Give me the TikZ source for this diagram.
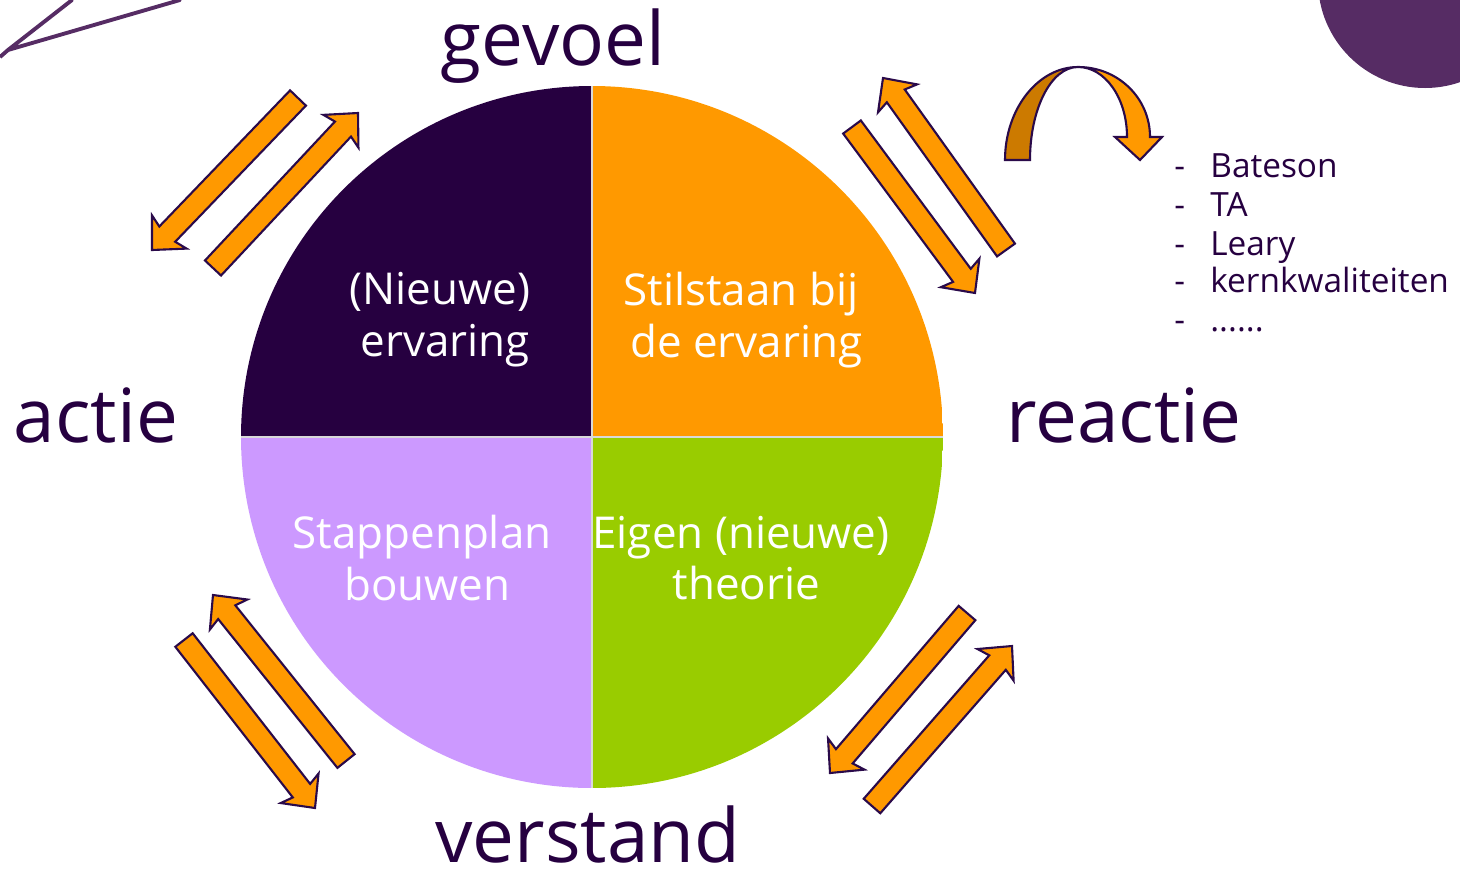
\documentclass[tikz,border=0pt]{standalone}
\usepackage{fontspec}
\setmainfont{Open Sans}
\usepackage{tikz}
\usetikzlibrary{calc}
\definecolor{donker}{HTML}{260040}
\definecolor{oranje}{HTML}{FF9900}
\definecolor{lila}{HTML}{CC99FF}
\definecolor{groen}{HTML}{99CC00}
\definecolor{schaduw}{HTML}{CC7A00}
\definecolor{rand}{HTML}{2A0A4A}
\definecolor{deco}{HTML}{562C64}
\tikzset{
  pijl/.style={draw=rand,fill=oranje,line width=1.2pt,line join=miter},
  groot/.style={donker,font=\fontsize{42.5}{50}\selectfont,anchor=base,text depth=0pt,inner ysep=0pt},
  kwart/.style={white,align=center,font=\fontsize{25}{29.5}\selectfont},
  lijst/.style={donker,font=\fontsize{19}{23}\selectfont,anchor=base west,inner xsep=0pt}
}
\newcommand{\pijlschacht}{0.22cm}
\newcommand{\pijlkop}{0.48cm}
\newcommand{\pijlhals}{0.44cm}
\newcommand{\pijlbaard}{0.50cm}
% block arrow from #1 (tail) to #2 (tip)
\newcommand{\blokpijl}[2]{%
  \draw[pijl] ($(#1)!\pijlschacht!90:(#2)$)
    -- ($($(#2)!\pijlhals!(#1)$)!\pijlschacht!90:(#2)$)
    -- ($($(#2)!\pijlbaard!(#1)$)!\pijlkop!90:(#2)$)
    -- (#2)
    -- ($($(#2)!\pijlbaard!(#1)$)!\pijlkop!-90:(#2)$)
    -- ($($(#2)!\pijlhals!(#1)$)!\pijlschacht!-90:(#2)$)
    -- ($(#1)!\pijlschacht!-90:(#2)$) -- cycle;}

\begin{document}
\begin{tikzpicture}[x=0.02cm,y=-0.02cm]
\useasboundingbox (0,0) rectangle (1460,873);
\path coordinate (m) at (592,437);

% leftovers of the slide
\draw[deco,line width=2.2pt,line cap=round,line join=round] (72,0) -- (8,50) -- (180,0);
\draw[deco,line width=2.2pt] (8,50) -- (0,57);
\fill[deco] (1425,-19) circle[radius=107];

% the four quarters
\begin{scope}
\clip (m) circle[radius=351];
\fill[donker] (m) rectangle ++(-351,-351);
\fill[oranje] (m) rectangle ++(351,-351);
\fill[lila] (m) rectangle ++(-351,351);
\fill[groen] (m) rectangle ++(351,351);
\draw[white!70!gray,line width=0.6pt] (m) ++(0,-351) -- ++(0,702);
\draw[white!70!gray,line width=0.6pt] (m) ++(-351,0) -- ++(702,0);
\end{scope}

\node[kwart] (ervaring) at (440,320) {(Nieuwe)\\ \hspace{6pt}ervaring};
\node[kwart] (stilstaan) at (741,320) {Stilstaan bij\\ \hspace{6pt}de ervaring};
\node[kwart] (stappenplan) at (422,558) {Stappenplan\\ \hspace{6pt}bouwen};
\node[kwart] (theorie) at (741,558) {Eigen (nieuwe)\\ \hspace{6pt}theorie};

\node[groot] (gevoel) at (553,65) {gevoel};
\node[groot] (actie) at (96,442) {actie};
\node[groot] (reactie) at (1124,442) {reactie};
\node[groot] (verstand) at (588,862) {verstand};

% double arrows between the poles
\path coordinate (p1) at (298,98)   coordinate (q1) at (152,250)
      coordinate (p2) at (213,268)  coordinate (q2) at (358,113)
      coordinate (p3) at (1006,250) coordinate (q3) at (883,78)
      coordinate (p4) at (852,127)  coordinate (q4) at (975,293)
      coordinate (p5) at (346,761)  coordinate (q5) at (213,595)
      coordinate (p6) at (184,640)  coordinate (q6) at (315,808)
      coordinate (p7) at (967,613)  coordinate (q7) at (830,773)
      coordinate (p8) at (872,806)  coordinate (q8) at (1012,646);
\blokpijl{p1}{q1}
\blokpijl{p2}{q2}
\blokpijl{p3}{q3}
\blokpijl{p4}{q4}
\blokpijl{p5}{q5}
\blokpijl{p6}{q6}
\blokpijl{p7}{q7}
\blokpijl{p8}{q8}

% curved arrow towards the list
\draw[pijl,fill=schaduw] (1005,160) .. controls (1005,109) and (1038,67) .. (1078,67)
  .. controls (1051,67) and (1030,109) .. (1030,160) -- cycle;
\draw[pijl] (1078,67) .. controls (1118,67) and (1150,98) .. (1150,137)
  -- (1162,137) -- (1140,160) -- (1115,137) -- (1127,137)
  .. controls (1127,98) and (1105,67) .. (1078,67) -- cycle;

\node[lijst] (l1) at (1210,177) {Bateson};
\node[lijst] (l2) at (1210,216) {TA};
\node[lijst] (l3) at (1210,255) {Leary};
\node[lijst] (l4) at (1210,292) {kernkwaliteiten};
\node[lijst] (l5) at (1210,331) {......};
\node[lijst] (s1) at (1174,177) {-};
\node[lijst] (s2) at (1174,216) {-};
\node[lijst] (s3) at (1174,255) {-};
\node[lijst] (s4) at (1174,292) {-};
\node[lijst] (s5) at (1174,331) {-};
\end{tikzpicture}
\end{document}
